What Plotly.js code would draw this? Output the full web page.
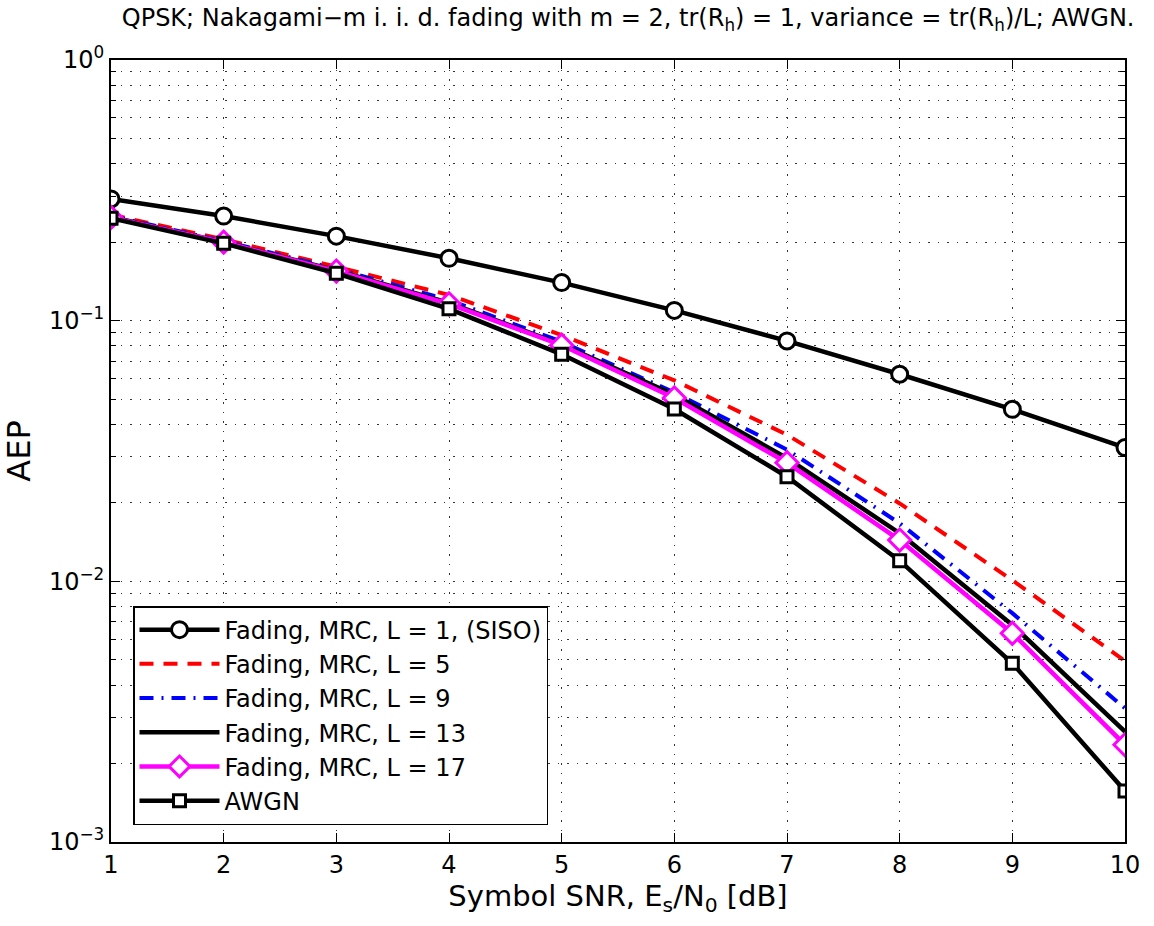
<!DOCTYPE html>
<html>
<head>
<meta charset="utf-8">
<script src="https://cdn.plot.ly/plotly-3.0.1.min.js"></script>
<style>html,body{margin:0;padding:0;background:#fff;}#chart{width:1154px;height:926px;}</style>
</head>
<body>
<div id="chart"></div>
<script>
var snr = [1, 2, 3, 4, 5, 6, 7, 8, 9, 10];
var aepL1 = [0.293, 0.252, 0.211, 0.1735, 0.140, 0.1095, 0.0836, 0.0623, 0.0457, 0.0326];
var aepL5 = [0.255, 0.205, 0.161, 0.1255, 0.088, 0.059, 0.0365, 0.0199, 0.0101, 0.00495];
var aepL9 = [0.252, 0.202, 0.158, 0.120, 0.083, 0.053, 0.032, 0.0167, 0.00755, 0.00326];
var aepL13 = [0.250, 0.200, 0.156, 0.117, 0.081, 0.052, 0.0297, 0.0153, 0.0068, 0.00265];
var aepL17 = [0.249, 0.200, 0.155, 0.116, 0.0805, 0.0505, 0.0285, 0.0144, 0.00632, 0.00236];
var aepAWGN = [0.247, 0.198, 0.152, 0.111, 0.0743, 0.0458, 0.0252, 0.0120, 0.00485, 0.00157];
var names = ['Fading, MRC, L = 1, (SISO)', 'Fading, MRC, L = 5', 'Fading, MRC, L = 9',
             'Fading, MRC, L = 13', 'Fading, MRC, L = 17', 'AWGN'];
var yTickVals = [0.001, 0.01, 0.1, 1];
var yTickText = ['10<sup>\u22123</sup>', '10<sup>\u22122</sup>', '10<sup>\u22121</sup>', '10<sup>0</sup>'];

var traces = [
  {x: snr, y: aepL1, name: names[0], mode: 'lines+markers',
   line: {color: '#000', width: 4.5},
   marker: {symbol: 'circle', size: 16, color: '#fff', line: {color: '#000', width: 3}}},
  {x: snr, y: aepL5, name: names[1], mode: 'lines',
   line: {color: '#ff0000', width: 4, dash: '14px,10px'}},
  {x: snr, y: aepL9, name: names[2], mode: 'lines',
   line: {color: '#0000ff', width: 4, dash: '14px,8px,2px,8px'}},
  {x: snr, y: aepL13, name: names[3], mode: 'lines',
   line: {color: '#000', width: 4.5}},
  {x: snr, y: aepL17, name: names[4], mode: 'lines+markers',
   line: {color: '#ff00ff', width: 4.5},
   marker: {symbol: 'diamond', size: 17, color: '#fff', line: {color: '#ff00ff', width: 3}}},
  {x: snr, y: aepAWGN, name: names[5], mode: 'lines+markers',
   line: {color: '#000', width: 4.5},
   marker: {symbol: 'square', size: 12, color: '#fff', line: {color: '#000', width: 3}}}
];

var font = 'DejaVu Sans, sans-serif';
var gridDash = '1.5px,8px';
var gridCol = '#333';
var layout = {
  width: 1154, height: 926,
  margin: {l: 111, r: 29, t: 60, b: 84},
  paper_bgcolor: '#fff', plot_bgcolor: '#fff',
  font: {family: font, color: '#000', size: 24},
  title: {text: 'QPSK; Nakagami\u2212m i. i. d. fading with m = 2, tr(R<sub>h</sub>) = 1, variance = tr(R<sub>h</sub>)/L; AWGN.',
          font: {size: 24, family: font}, xref: 'paper', x: 0.51, xanchor: 'center',
          yref: 'container', y: 0.99, yanchor: 'top'},
  xaxis: {
    range: [1, 10], tickmode: 'array', tickvals: snr, ticktext: snr.map(String),
    ticks: 'inside', ticklen: 9, tickwidth: 1, tickcolor: '#000',
    showline: true, linecolor: '#000', linewidth: 2, mirror: 'ticks',
    showgrid: true, gridcolor: gridCol, griddash: gridDash, gridwidth: 1,
    zeroline: false, tickfont: {size: 24},
    title: {text: 'Symbol SNR, E<sub>s</sub>/N<sub>0</sub> [dB]', font: {size: 29}, standoff: 6}
  },
  yaxis: {
    type: 'log', range: [-3, 0], tickmode: 'array', tickvals: yTickVals, ticktext: yTickText,
    ticks: 'inside', ticklen: 9, tickwidth: 1, tickcolor: '#000',
    showline: true, linecolor: '#000', linewidth: 2, mirror: 'ticks',
    showgrid: true, gridcolor: gridCol, griddash: gridDash, gridwidth: 1,
    zeroline: false, tickfont: {size: 24},
    minor: {dtick: 'D1', ticks: 'inside', ticklen: 5, tickcolor: '#000',
            showgrid: true, gridcolor: gridCol, griddash: gridDash, gridwidth: 1},
    title: {text: 'AEP', font: {size: 32}, standoff: 14}
  },
  showlegend: true,
  legend: {x: 0.0217, y: 0.0217, xanchor: 'left', yanchor: 'bottom',
           bgcolor: '#fff', bordercolor: '#000', borderwidth: 1.5,
           font: {size: 24, family: font}, itemwidth: 80, tracegroupgap: 0}
};

Plotly.newPlot('chart', traces, layout, {displayModeBar: false, staticPlot: true});
</script>
</body>
</html>
